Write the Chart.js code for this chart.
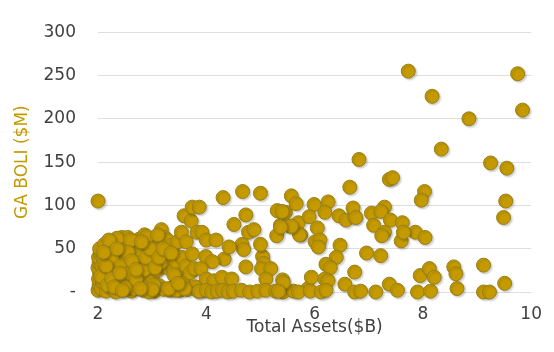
<!DOCTYPE html>
<html>
<head>
<meta charset="utf-8">
<script src="https://cdn.jsdelivr.net/npm/chart.js@4/dist/chart.umd.min.js"></script>
<style>
  html, body { margin: 0; padding: 0; background: #fff; }
  #wrap { width: 554px; height: 352px; }
</style>
</head>
<body>
<div id="wrap"><canvas id="scatterChart" width="554" height="352"></canvas></div>
<script>
// total assets ($B), one entry per bank
var assets = [
  2.00, 2.02, 2.01, 2.03, 2.00, 2.02, 2.01, 2.04, 2.03, 2.06, 2.08, 2.07, 2.10, 2.12, 2.14, 2.15, 2.18, 2.20, 2.22, 2.24,
  2.25, 2.28, 2.30, 2.32, 2.34, 2.36, 2.38, 2.40, 2.42, 2.44, 2.45, 2.47, 2.50, 2.52, 2.53, 2.55, 2.57, 2.60, 2.62, 2.63,
  2.66, 2.68, 2.70, 2.72, 2.74, 2.76, 2.78, 2.80, 2.82, 2.84, 2.86, 2.88, 2.90, 2.92, 2.94, 2.96, 2.98, 3.00, 3.02, 3.04,
  3.05, 3.07, 3.10, 3.12, 3.14, 3.17, 3.18, 3.20, 3.22, 3.23, 3.25, 3.28, 3.30, 3.32, 3.34, 3.36, 3.38, 3.40, 3.42, 3.45,
  3.47, 3.50, 3.52, 3.54, 3.55, 3.58, 3.59, 3.62, 3.63, 3.66, 3.70, 3.72, 3.74, 3.74, 3.78, 3.80, 3.83, 3.85, 3.92, 3.95,
  2.05, 2.12, 2.17, 2.26, 2.33, 2.41, 2.48, 2.58, 2.65, 2.75, 2.85, 2.95, 3.03, 3.15, 3.44, 2.35, 2.60, 2.90, 3.10, 2.20,
  2.50, 2.70, 3.00, 3.30, 3.60, 2.00,
  2.15, 2.25, 2.30, 2.40, 2.55, 2.62, 2.70, 2.78, 2.88, 2.96, 3.05, 3.12, 3.20, 3.35, 3.40, 3.48, 2.45, 2.10, 2.35, 2.80,
  3.87, 4.00, 4.18, 3.99, 4.33, 4.11, 4.73, 5.04, 5.06, 5.02, 5.19, 3.90, 4.00, 4.14, 4.29, 4.47, 5.10, 5.41, 4.31, 4.67,
  5.00, 4.73, 4.51, 4.78, 4.88, 4.66, 4.69, 5.00, 4.42, 5.31, 5.46, 5.37, 5.55, 5.70, 5.74, 5.30,
  3.87, 4.00, 4.10, 4.20, 4.30, 4.40, 4.50, 4.65, 4.80, 4.95, 5.10, 5.28, 5.42, 5.61, 5.88,
  5.57, 5.66, 5.99, 6.25, 6.19, 5.90, 5.40, 6.45, 6.58, 6.74, 6.71, 7.05, 7.29, 7.22, 7.40, 7.09, 7.29, 7.24, 7.62, 7.86,
  8.04, 7.60, 6.05, 5.72, 5.57, 5.37, 6.01, 6.10, 6.07, 6.47, 6.40, 6.21, 6.29, 6.96, 7.22, 6.74, 5.94, 6.19, 6.25, 6.56,
  5.42, 7.38, 7.53, 7.95, 8.12, 8.21, 8.57, 8.61, 9.12, 9.51, 8.63,
  5.33, 5.70, 5.92, 6.12, 6.21, 6.74, 6.85, 7.13, 7.90, 8.14, 9.12, 9.23,
  7.73, 9.75, 8.17, 9.84, 8.85, 8.34, 6.82, 9.25, 9.55, 7.38, 7.44, 6.65, 8.03, 7.97, 9.53, 9.49, 6.76, 7.64
];
// GA BOLI ($M), same order as assets
var boli = [
  2, 8, 15, 22, 28, 34, 40, 45, 50, 4, 12, 30, 38, 55, 20, 1, 44, 26, 10, 50,
  34, 3, 18, 42, 58, 28, 8, 47, 14, 63, 36, 2, 24, 52, 40, 63, 10, 31, 1, 45,
  18, 56, 38, 6, 27, 61, 48, 14, 34, 2, 66, 22, 52, 42, 8, 30, 60, 17, 46, 61,
  1, 36, 25, 52, 7, 72, 42, 30, 3, 63, 48, 60, 28, 36, 2, 54, 28, 44, 8, 34,
  58, 20, 2, 69, 40, 12, 88, 30, 58, 3, 22, 82, 98, 44, 27, 6, 69, 1, 69, 2,
  18, 32, 8, 40, 0, 30, 56, 22, 4, 42, 26, 0, 8, 34, 2, 62, 60, 64, 66, 60,
  5, 15, 3, 4, 4, 105,
  30, 15, 6, 22, 46, 36, 26, 4, 40, 50, 28, 40, 50, 45, 20, 10, 2, 46, 50, 58,
  98, 60, 60, 41, 38, 35, 29, 41, 33, 27, 27, 27, 15, 13, 17, 15, 15, 14, 109, 116,
  114, 89, 78, 69, 72, 55, 49, 55, 52, 94, 92, 77, 76, 80, 66, 65,
  1, 2, 0, 1, 2, 0, 1, 2, 0, 1, 2, 1, 0, 1, 4,
  111, 102, 101, 104, 92, 87, 93, 88, 83, 87, 97, 91, 98, 93, 83, 77, 69, 65, 80, 69,
  63, 59, 74, 66, 76, 75, 58, 60, 52, 54, 40, 32, 28, 45, 42, 23, 17, 15, 13, 9,
  11, 9, 2, 19, 27, 17, 29, 21, 31, 10, 4,
  1, 0, 1, 0, 2, 0, 1, 0, 0, 1, 0, 0,
  255, 252, 226, 210, 200, 165, 153, 149, 143, 130, 132, 121, 116, 106, 105, 86, 86, 69
];
var yTicks = [0, 50, 100, 150, 200, 250, 300];
var xTicks = [2, 4, 6, 8, 10];

var puntos = [];
for (var i = 0; i < assets.length; i++) {
    puntos.push({ x: assets[i], y: boli[i] });
}

var sombra = {
    id: 'sombra',
    beforeDatasetsDraw: function(chart) {
        var c = chart.ctx;
        c.save();
        c.shadowColor = 'rgba(0,0,0,0.18)';
        c.shadowBlur = 2;
        c.shadowOffsetX = 1.5;
        c.shadowOffsetY = 1.5;
    },
    afterDatasetsDraw: function(chart) {
        chart.ctx.restore();
    }
};

var ctx = document.getElementById('scatterChart').getContext('2d');
var myChart = new Chart(ctx, {
    type: 'scatter',
    data: {
        datasets: [{
            label: 'GA BOLI',
            data: puntos,
            backgroundColor: '#c49a00',
            borderColor: '#96801a',
            borderWidth: 1,
            pointRadius: 7,
            pointHoverRadius: 7,
            clip: false
        }]
    },
    plugins: [sombra],
    options: {
        responsive: false,
        animation: false,
        layout: { padding: { top: 21, right: 17, left: 0, bottom: 0 } },
        plugins: {
            legend: { display: false },
            tooltip: { enabled: false }
        },
        scales: {
            x: {
                type: 'linear',
                min: 2,
                max: 10,
                afterBuildTicks: function(scale) {
                    scale.ticks = xTicks.map(function(v) { return { value: v }; });
                },
                afterFit: function(scale) { scale.height = 60; },
                grid: { display: false, drawTicks: false },
                border: { display: false },
                ticks: {
                    color: '#404040',
                    padding: 12,
                    font: { family: 'DejaVu Sans', size: 17 }
                },
                title: {
                    display: true,
                    text: 'Total Assets($B)',
                    color: '#404040',
                    padding: { top: 0, bottom: 14 },
                    font: { family: 'DejaVu Sans', size: 17 }
                }
            },
            y: {
                min: 0,
                max: 300,
                afterBuildTicks: function(scale) {
                    scale.ticks = yTicks.map(function(v) { return { value: v }; });
                },
                afterFit: function(scale) { scale.width = 98; },
                grid: { color: '#dedede', lineWidth: 1, drawTicks: false },
                border: { display: false },
                ticks: {
                    color: '#404040',
                    padding: 22,
                    font: { family: 'DejaVu Sans', size: 17 },
                    callback: function(v) { return v === 0 ? '-' : v; }
                },
                title: {
                    display: true,
                    text: 'GA BOLI ($M)',
                    color: '#c49a00',
                    padding: { top: 12, bottom: 0 },
                    font: { family: 'DejaVu Sans', size: 17 }
                }
            }
        }
    }
});
</script>
</body>
</html>
